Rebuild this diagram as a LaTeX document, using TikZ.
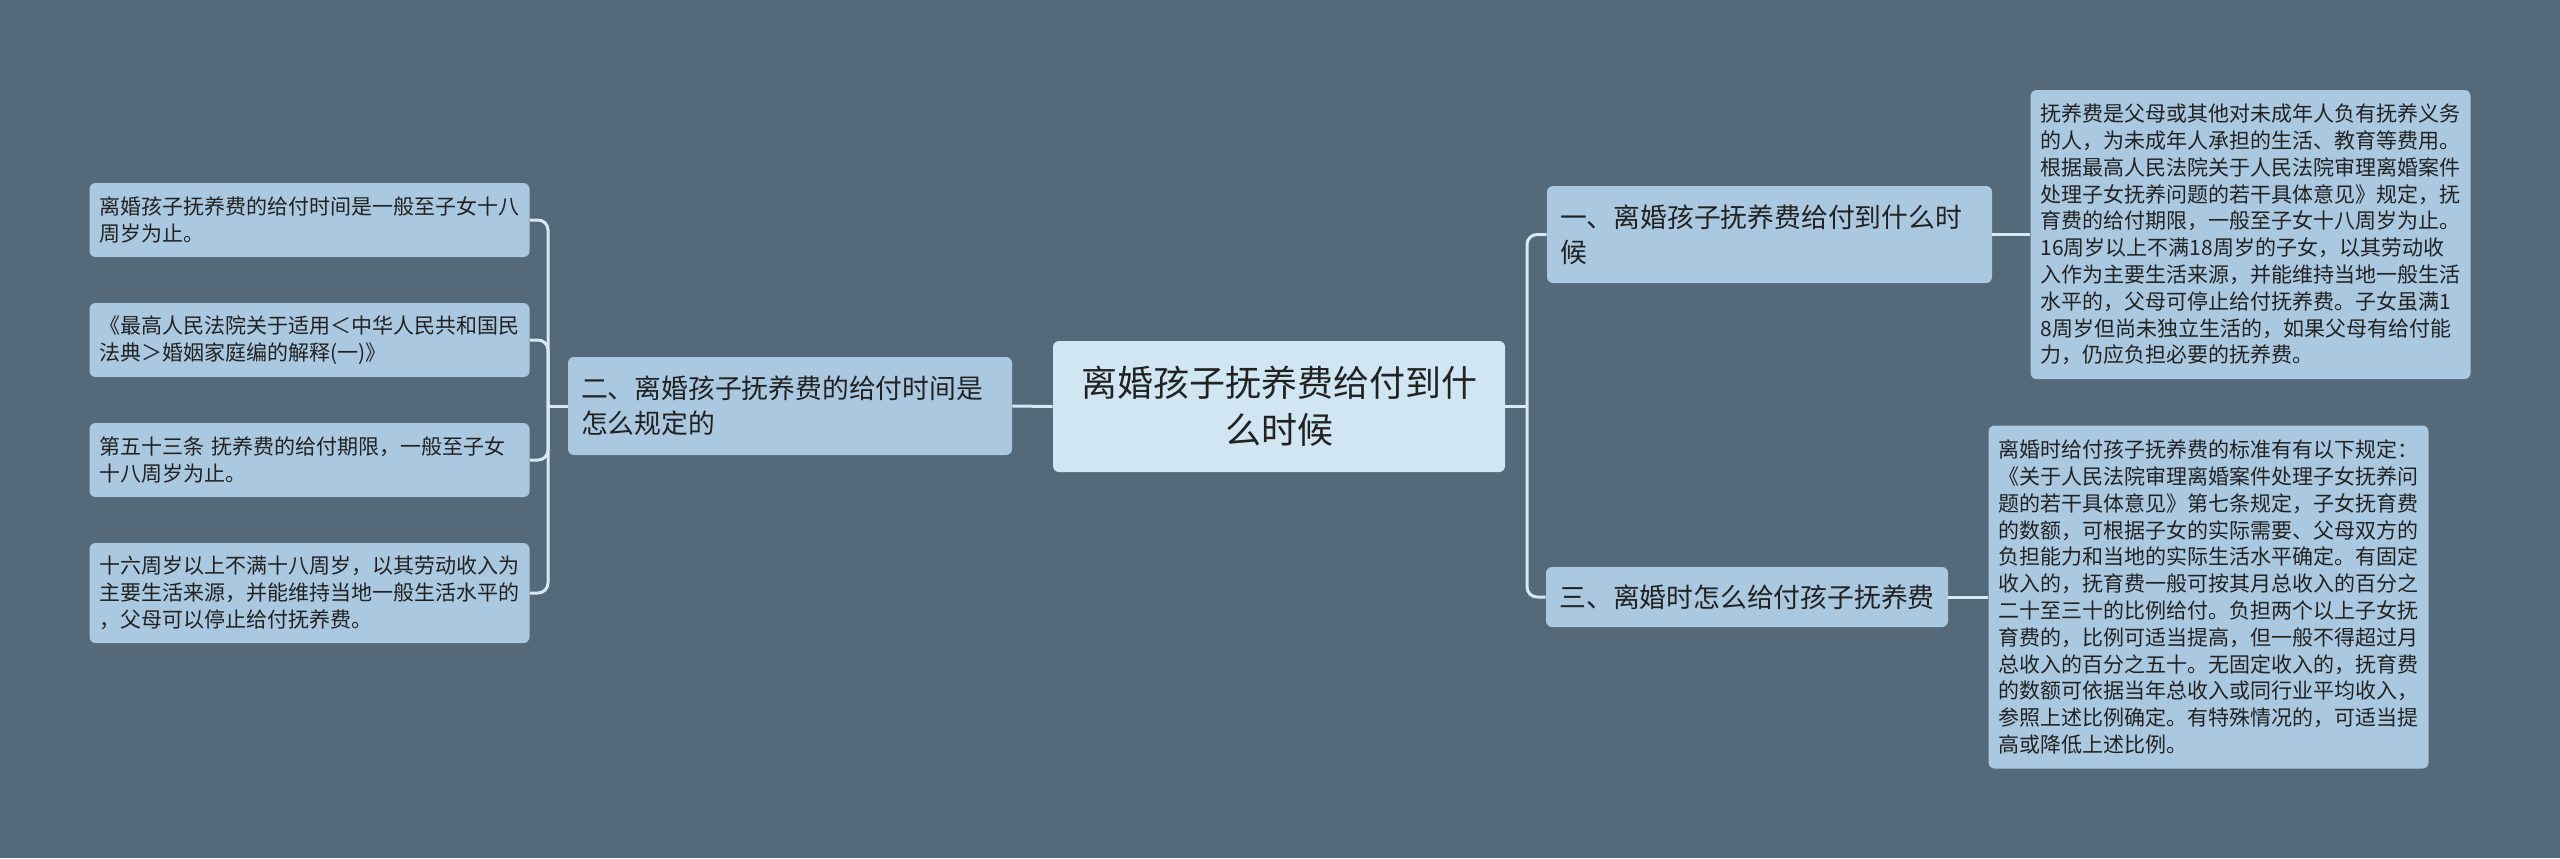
\documentclass[tikz,border=0pt]{standalone}
\usepackage{fontspec}
\setmainfont{Noto Sans CJK SC}
\definecolor{bgc}{HTML}{546979}
\definecolor{nodec}{HTML}{AAC9E0}
\definecolor{centc}{HTML}{D0E6F3}
\definecolor{linec}{HTML}{D6E9F4}
\definecolor{txtc}{HTML}{222222}
\tikzset{
  box/.style={draw=none, fill=nodec, rounded corners=3pt, text=txtc, inner xsep=5pt, inner ysep=0pt, align=left},
  leafbox/.style={box, text width=210pt, minimum width=219.5pt, font=\fontsize{10.5pt}{13.4pt}\selectfont},
  branchbox/.style={box, inner xsep=6.5pt, font=\fontsize{13.4pt}{17.5pt}\selectfont},
  centbox/.style={box, fill=centc, align=center, font=\fontsize{18pt}{23.5pt}\selectfont},
  conn/.style={draw=linec, line width=1.5pt, rounded corners=5pt}
}
\begin{document}
\begin{tikzpicture}[x=0.5pt,y=-0.5pt]
\fill[bgc] (0,0) rectangle (2560,858);
\useasboundingbox (0,0) rectangle (2560,858);
% center
\node[centbox, minimum width=226pt, minimum height=65.5pt] (C) at (1279,406.5) {离婚孩子抚养费给付到什\\么时候};
% left branch
\node[branchbox, text width=209pt, minimum width=222pt, minimum height=49pt] (P2) at (790,406) {二、离婚孩子抚养费的给付时间是\\怎么规定的};
\node[leafbox, minimum height=37pt] (L1) at (309.5,220) {离婚孩子抚养费的给付时间是一般至子女十八\\周岁为止。};
\node[leafbox, minimum height=37pt] (L2) at (309.5,340) {《最高人民法院关于适用＜中华人民共和国民\\法典＞婚姻家庭编的解释(一)》};
\node[leafbox, minimum height=37pt] (L3) at (309.5,460) {第五十三条 抚养费的给付期限，一般至子女\\十八周岁为止。};
\node[leafbox, minimum height=50pt] (L4) at (309.5,593) {十六周岁以上不满十八周岁，以其劳动收入为\\主要生活来源，并能维持当地一般生活水平的\\，父母可以停止给付抚养费。};
% right branches
\node[branchbox, text width=209.5pt, minimum width=222.5pt, minimum height=48.5pt] (R1) at (1769.5,234.5) {一、离婚孩子抚养费给付到什么时\\候};
\node[branchbox, minimum width=201pt, minimum height=30pt] (R2) at (1747,597) {三、离婚时怎么给付孩子抚养费};
\node[leafbox, minimum height=144.5pt] (R1L) at (2250.5,234.5) {抚养费是父母或其他对未成年人负有抚养义务\\的人，为未成年人承担的生活、教育等费用。\\根据最高人民法院关于人民法院审理离婚案件\\处理子女抚养问题的若干具体意见》规定，抚\\育费的给付期限，一般至子女十八周岁为止。\\16周岁以上不满18周岁的子女，以其劳动收\\入作为主要生活来源，并能维持当地一般生活\\水平的，父母可停止给付抚养费。子女虽满1\\8周岁但尚未独立生活的，如果父母有给付能\\力，仍应负担必要的抚养费。};
\node[leafbox, minimum height=171.5pt] (R2L) at (2208.5,597) {离婚时给付孩子抚养费的标准有有以下规定：\\《关于人民法院审理离婚案件处理子女抚养问\\题的若干具体意见》第七条规定，子女抚育费\\的数额，可根据子女的实际需要、父母双方的\\负担能力和当地的实际生活水平确定。有固定\\收入的，抚育费一般可按其月总收入的百分之\\二十至三十的比例给付。负担两个以上子女抚\\育费的，比例可适当提高，但一般不得超过月\\总收入的百分之五十。无固定收入的，抚育费\\的数额可依据当年总收入或同行业平均收入，\\参照上述比例确定。有特殊情况的，可适当提\\高或降低上述比例。};
% connectors
\coordinate (SL) at (548,406);
\coordinate (SR) at (1527,406.5);
\draw[conn] (C.west) -- (P2.east);
\draw[conn] (P2.west) -- (SL);
\draw[conn] (SL) |- (L1.east);
\draw[conn] (SL) |- (L2.east);
\draw[conn] (SL) |- (L3.east);
\draw[conn] (SL) |- (L4.east);
\draw[conn] (C.east) -- (SR);
\draw[conn] (SR) |- (R1.west);
\draw[conn] (SR) |- (R2.west);
\draw[conn] (R1.east) -- (R1L.west);
\draw[conn] (R2.east) -- (R2L.west);
\end{tikzpicture}
\end{document}
